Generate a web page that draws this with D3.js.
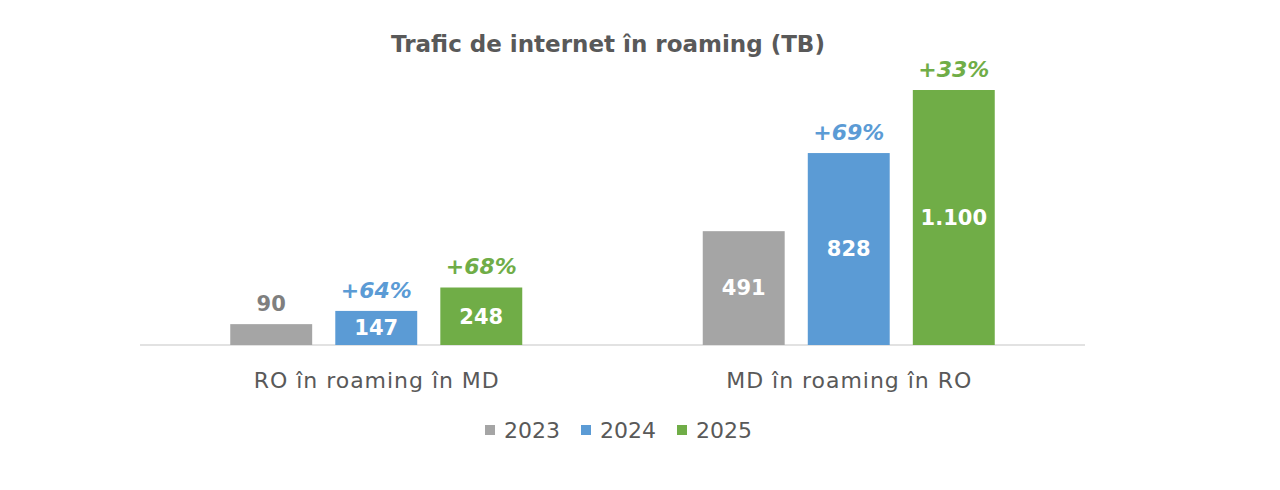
<!DOCTYPE html>
<html>
<head>
<meta charset="utf-8">
<script src="https://cdn.jsdelivr.net/npm/d3@7"></script>
<style>
  body { margin: 0; background: #fff; }
</style>
</head>
<body>
<svg id="chart" width="1280" height="490"></svg>
<script>
// Data
const categories = ["RO în roaming în MD", "MD în roaming în RO"];
const years = ["2023", "2024", "2025"];
const values2023 = [90, 491];
const values2024 = [147, 828];
const values2025 = [248, 1100];
const valueLabels2023 = ["90", "491"];
const valueLabels2024 = ["147", "828"];
const valueLabels2025 = ["248", "1.100"];
const growth2024 = ["+64%", "+69%"];
const growth2025 = ["+68%", "+33%"];

const colors = ["#a5a5a5", "#5b9bd5", "#70ad47"];
const font = "DejaVu Sans, Verdana, sans-serif";

const svg = d3.select("#chart");
const margin = { left: 140, right: 195, top: 90, bottom: 145 };
const width = 1280 - margin.left - margin.right;
const height = 490 - margin.top - margin.bottom;

const g = svg.append("g").attr("transform", `translate(${margin.left},${margin.top})`);

// Build rows
const series = [
    { year: years[0], values: values2023, labels: valueLabels2023, growth: [null, null] },
    { year: years[1], values: values2024, labels: valueLabels2024, growth: growth2024 },
    { year: years[2], values: values2025, labels: valueLabels2025, growth: growth2025 }
];
const rows = [];
categories.forEach((c, ci) => {
    series.forEach((s, si) => {
        rows.push({ cat: c, year: s.year, si: si, value: s.values[ci], label: s.labels[ci], growth: s.growth[ci] });
    });
});

// Scales
const x0 = d3.scaleBand().domain(categories).range([0, width]);
const groupSpan = 292;
const x1 = d3.scaleBand()
    .domain(years)
    .range([(x0.bandwidth() - groupSpan) / 2, (x0.bandwidth() + groupSpan) / 2])
    .paddingInner(0.22);
const y = d3.scaleLinear().domain([0, 1100]).range([height, 0]);

// Title
svg.append("text")
    .attr("x", 608)
    .attr("y", 52)
    .attr("text-anchor", "middle")
    .attr("font-family", font)
    .attr("font-weight", "bold")
    .style("font-size", "23px")
    .attr("fill", "#595959")
    .text("Trafic de internet în roaming (TB)");

// Axis line
g.append("line")
    .attr("x1", 0).attr("x2", width)
    .attr("y1", height).attr("y2", height)
    .attr("stroke", "#d9d9d9")
    .attr("stroke-width", 1.5);

// Bars
g.selectAll(".bar")
    .data(rows)
    .enter()
    .append("rect")
    .attr("class", "bar")
    .attr("x", d => x0(d.cat) + x1(d.year))
    .attr("y", d => y(d.value))
    .attr("width", x1.bandwidth())
    .attr("height", d => height - y(d.value))
    .attr("fill", d => colors[d.si]);

// Value labels (inside the bar, or above when the bar is too short)
g.selectAll(".val")
    .data(rows)
    .enter()
    .append("text")
    .attr("class", "val")
    .attr("x", d => x0(d.cat) + x1(d.year) + x1.bandwidth() / 2)
    .attr("y", d => {
        const h = height - y(d.value);
        if (h < 30) return y(d.value) - 20;
        return y(d.value) + h / 2;
    })
    .attr("dy", "0.35em")
    .attr("text-anchor", "middle")
    .attr("font-family", font)
    .attr("font-weight", "bold")
    .style("font-size", "21px")
    .attr("fill", d => (height - y(d.value) < 30) ? "#7f7f7f" : "#ffffff")
    .text(d => d.label);

// Growth labels
g.selectAll(".growth")
    .data(rows.filter(d => d.growth))
    .enter()
    .append("text")
    .attr("class", "growth")
    .attr("x", d => x0(d.cat) + x1(d.year) + x1.bandwidth() / 2)
    .attr("y", d => y(d.value) - 21)
    .attr("dy", "0.35em")
    .attr("text-anchor", "middle")
    .attr("font-family", font)
    .attr("font-weight", "bold")
    .attr("font-style", "italic")
    .style("font-size", "22px")
    .attr("fill", d => colors[d.si])
    .text(d => d.growth);

// Category labels
g.selectAll(".cat")
    .data(categories)
    .enter()
    .append("text")
    .attr("class", "cat")
    .attr("x", d => x0(d) + x0.bandwidth() / 2)
    .attr("y", height + 35)
    .attr("dy", "0.35em")
    .attr("text-anchor", "middle")
    .attr("font-family", font)
    .style("font-size", "22px")
    .attr("textLength", 245)
    .attr("lengthAdjust", "spacing")
    .attr("fill", "#595959")
    .text(d => d);

// Legend
const legendX = [485, 581, 677];
const legend = svg.append("g").attr("transform", "translate(0,430)");
years.forEach((yr, i) => {
    legend.append("rect")
        .attr("x", legendX[i])
        .attr("y", -5)
        .attr("width", 10)
        .attr("height", 10)
        .attr("fill", colors[i]);
    legend.append("text")
        .attr("x", legendX[i] + 19)
        .attr("y", 0)
        .attr("dy", "0.35em")
        .attr("font-family", font)
        .style("font-size", "22px")
        .attr("fill", "#595959")
        .text(yr);
});
</script>
</body>
</html>
